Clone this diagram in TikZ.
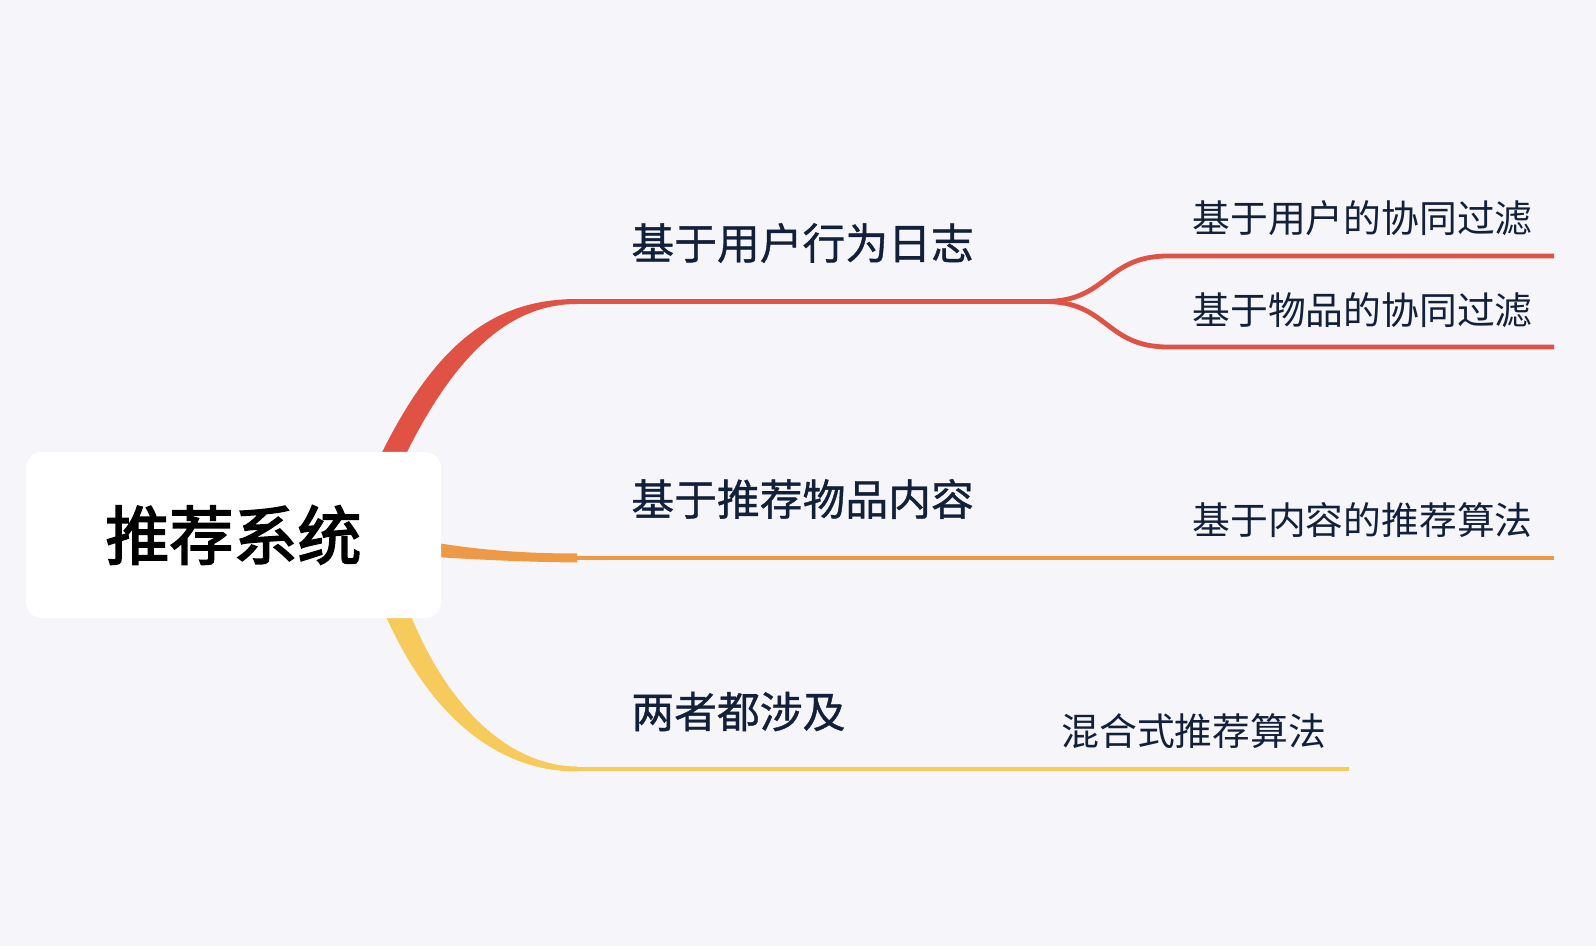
\documentclass[tikz,border=0pt]{standalone}
\usepackage{fontspec}
\setmainfont{Noto Sans CJK SC}
\newfontfamily\rootfont[FakeBold=2.6]{Noto Sans CJK SC}
\newfontfamily\medfont[FakeBold=0.9]{Noto Sans CJK SC}
\definecolor{bgc}{HTML}{F5F5FA}
\definecolor{redc}{HTML}{E05243}
\definecolor{orangec}{HTML}{EE9946}
\definecolor{yellowc}{HTML}{F6CB5B}
\definecolor{txtc}{HTML}{13203A}
\tikzset{
  rootbox/.style={fill=white, rounded corners=8pt, minimum width=207.5pt, minimum height=83pt, inner sep=0pt, font=\rootfont\fontsize{32}{36}\selectfont, text=black},
  lvone/.style={anchor=west, inner sep=0pt, font=\medfont\fontsize{21.4}{24}\selectfont, text=txtc},
  lvtwo/.style={anchor=west, inner sep=0pt, font=\fontsize{18.9}{22}\selectfont, text=txtc},
  branch/.style={line width=2.4pt, line cap=butt},
}
\begin{document}
\begin{tikzpicture}[x=0.5pt,y=-0.5pt]
\fill[bgc] (0,0) rectangle (1596,946);
\useasboundingbox (0,0) rectangle (1596,946);
% tapered main branches
\fill[redc] (360,500) .. controls (420,360) and (480,299) .. (577,299) -- (577,304) .. controls (500,304) and (440,370) .. (385,500) -- cycle;
\fill[orangec] (420,540) .. controls (480,551) and (530,553.5) .. (577,553.5) -- (577,562.5) .. controls (530,562) and (480,560) .. (420,556) -- cycle;
\fill[yellowc] (368,570) .. controls (408,690) and (480,771.5) .. (577,771.5) -- (577,766.5) .. controls (500,766) and (430,690) .. (395,570) -- cycle;
% root
\node[rootbox] (root) at (233.5,535) {推荐系统};
% level one
\node[lvone] (b1) at (631,243) {基于用户行为日志};
\node[lvone] (b2) at (631,499) {基于推荐物品内容};
\node[lvone] (b3) at (631,711.5) {两者都涉及};
% level two
\node[lvtwo] (s11) at (1192,218.5) {基于用户的协同过滤};
\node[lvtwo] (s12) at (1192,310) {基于物品的协同过滤};
\node[lvtwo] (s2) at (1192,520.5) {基于内容的推荐算法};
\node[lvtwo] (s3) at (1061,731.5) {混合式推荐算法};
% line coordinates
\coordinate (r0) at (576,301.5);
\coordinate (rs) at (1045,301.5);
\coordinate (ru) at (1168,256);
\coordinate (rd) at (1168,347);
\coordinate (rue) at (1554,256);
\coordinate (rde) at (1554,347);
\coordinate (o0) at (576,558);
\coordinate (oe) at (1554,558);
\coordinate (y0) at (576,769);
\coordinate (ye) at (1349,769);
% red lines
\draw[branch, redc] (r0) -- (rs);
\draw[branch, redc] (rs) .. controls (1108,301.5) and (1105,256) .. (ru) -- (rue);
\draw[branch, redc] (rs) .. controls (1108,301.5) and (1105,347) .. (rd) -- (rde);
% orange line
\draw[branch, orangec] (o0) -- (oe);
% yellow line
\draw[branch, yellowc] (y0) -- (ye);
\end{tikzpicture}
\end{document}
